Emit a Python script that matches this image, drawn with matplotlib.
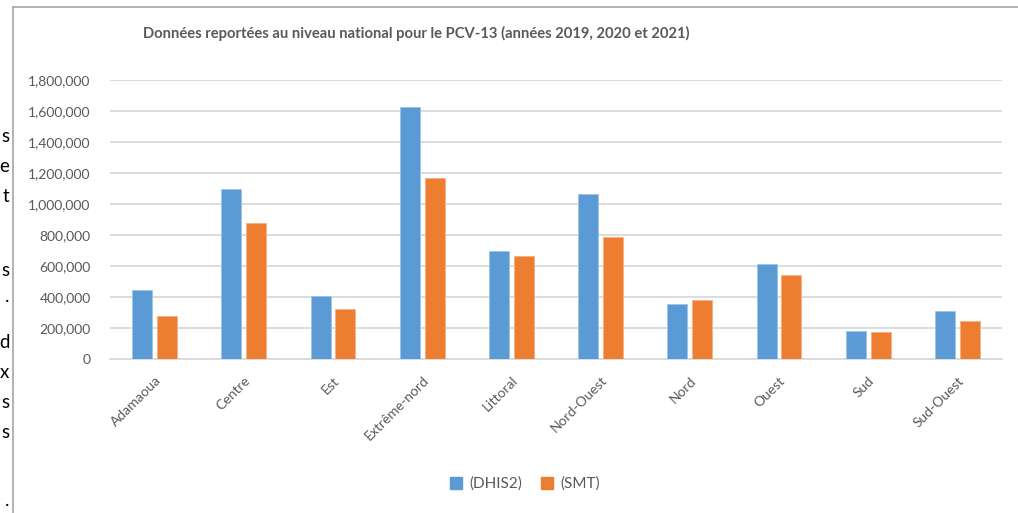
import matplotlib
matplotlib.use("Agg")
import matplotlib.pyplot as plt
import numpy as np
from matplotlib.lines import Line2D
from matplotlib.patches import Patch

# Regional PCV-13 doses, two reporting sources
regions = ["Adamaoua", "Centre", "Est", "Extrême-nord", "Littoral",
           "Nord-Ouest", "Nord", "Ouest", "Sud", "Sud-Ouest"]
dhis2 = [447000, 1097000, 404000, 1624000, 695000,
         1065000, 357000, 613000, 178000, 307000]
smt = [279000, 877000, 320000, 1170000, 663000,
       789000, 381000, 540000, 174000, 247000]
series_names = ["(DHIS2)", "(SMT)"]
title = "Données reportées au niveau national pour le PCV-13 (années 2019, 2020 et 2021)"
yticks = np.arange(0, 1800001, 200000)

BLUE = "#5b9bd5"
ORANGE = "#ed7d31"
GREY_TEXT = "#595959"
GRID = "#d9d9d9"

plt.rcParams["font.family"] = ["Lato", "DejaVu Sans"]

W, H = 1018, 513
fig = plt.figure(figsize=(W / 100, H / 100), dpi=100)
fig.patch.set_facecolor("white")

ax = fig.add_axes([110 / W, 1 - 359 / H, (1002 - 110) / W, (359 - 80) / H])

x = np.arange(len(regions))
bw = 0.224
off = 0.14
ax.bar(x - off, dhis2, width=bw, color=BLUE, edgecolor="#9dc3e6", linewidth=0.6, zorder=3)
ax.bar(x + off, smt, width=bw, color=ORANGE, edgecolor="#f4b183", linewidth=0.6, zorder=3)

ax.set_xlim(-0.5, len(regions) - 0.5)
ax.set_ylim(0, 1800000)
ax.set_yticks(yticks)
ax.set_yticklabels([f"{v:,}" for v in yticks], color=GREY_TEXT, fontsize=10)
ax.tick_params(axis="y", length=0, pad=14)
ax.grid(axis="y", color=GRID, linewidth=1.3, zorder=0)
ax.set_axisbelow(True)
for s in ["top", "right", "left"]:
    ax.spines[s].set_visible(False)
ax.spines["bottom"].set_color(GRID)
ax.spines["bottom"].set_linewidth(1.3)

ax.set_xticks(x)
ax.set_xticklabels(regions, rotation=45, ha="right", va="top",
                   rotation_mode="anchor", color=GREY_TEXT, fontsize=10)
ax.tick_params(axis="x", length=0, pad=11)

fig.text(416 / W, 1 - 33 / H, title, ha="center", va="center",
         fontsize=10.6, fontweight="bold", color=GREY_TEXT)

handles = [Patch(facecolor=BLUE, edgecolor=BLUE), Patch(facecolor=ORANGE, edgecolor=ORANGE)]
fig.legend(handles, series_names, loc="center", bbox_to_anchor=(525 / W, 1 - 484 / H),
           ncol=2, frameon=False, fontsize=11, labelcolor=GREY_TEXT,
           handlelength=0.8, handleheight=0.8, handletextpad=0.5, columnspacing=1.2)

# chart frame edges
fig.add_artist(Line2D([13 / W, 13 / W], [0, 1 - 7 / H], transform=fig.transFigure,
                      color="#a6a6a6", linewidth=1.2))
fig.add_artist(Line2D([13 / W, 1], [1 - 7 / H, 1 - 7 / H], transform=fig.transFigure,
                      color="#a6a6a6", linewidth=1.2))

# ends of the surrounding paragraph lines
margin_chars = [("s", 137), ("e", 167), ("t", 196), ("s", 271), (".", 297),
                ("d", 343), ("x", 372), ("s", 403), ("s", 433), (".", 500)]
for ch, yp in margin_chars:
    fig.text(9.5 / W, 1 - yp / H, ch, ha="right", va="center", fontsize=13.5, color="black")

fig.savefig("out.png", dpi=100, facecolor="white")
